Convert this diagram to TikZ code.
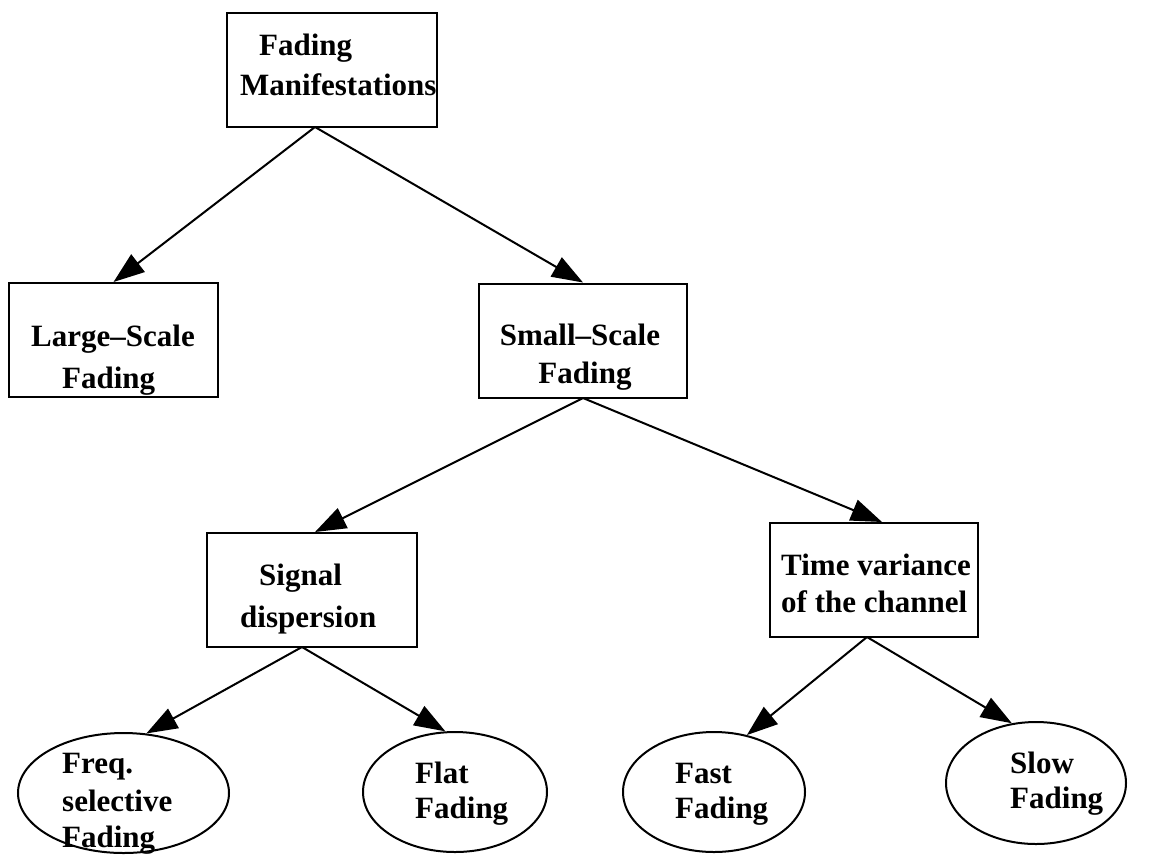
\documentclass[tikz,border=0pt]{standalone}
\usepackage{fontspec}
\setmainfont{Liberation Serif}
\usetikzlibrary{arrows.meta,shapes.geometric}

\tikzset{
  box/.style={draw, line width=2pt, rectangle, inner sep=0pt, minimum width=#1, minimum height=114pt},
  oval/.style={draw, line width=2pt, ellipse, inner sep=0pt},
  lbl/.style={inner sep=0pt, anchor=base west, font=\fontsize{31}{39}\selectfont\bfseries},
  clbl/.style={lbl, anchor=base},
  link/.style={line width=2pt, -{Triangle[length=31pt,width=22pt]}}
}

\begin{document}
\begin{tikzpicture}[x=1pt,y=-1pt]
  \useasboundingbox (0,0) rectangle (1153,855);

  % boxes
  \node[box=210pt] (root)   at (332,70)  {};
  \node[box=209pt] (large)  at (113.5,340) {};
  \node[box=208pt] (small)  at (583,340.5) {};
  \node[box=210pt] (signal) at (312,590) {};
  \node[box=208pt] (timev)  at (874,580) {};

  % ovals
  \node[oval, minimum width=211pt, minimum height=120pt] (freq) at (123.5,793) {};
  \node[oval, minimum width=184pt, minimum height=120pt] (flat) at (455,792) {};
  \node[oval, minimum width=182pt, minimum height=120pt] (fast) at (714,792) {};
  \node[oval, minimum width=180pt, minimum height=122pt] (slow) at (1036,783) {};

  % texts
  \node[lbl] (t1a) at (259,55) {Fading};
  \node[lbl] (t1b) at (240,95) {Manifestations};
  \node[lbl] (t2a) at (31,346) {Large–Scale};
  \node[lbl] (t2b) at (62,388) {Fading};
  \node[clbl] (t3a) at (580,345) {Small–Scale};
  \node[clbl] (t3b) at (585,383) {Fading};
  \node[lbl] (t4a) at (259,585) {Signal};
  \node[lbl] (t4b) at (240,627) {dispersion};
  \node[lbl] (t5a) at (781,575) {Time variance};
  \node[lbl] (t5b) at (781,612) {of the channel};
  \node[lbl] (t6a) at (62,773) {Freq.};
  \node[lbl] (t6b) at (62,811) {selective};
  \node[lbl] (t6c) at (62,847) {Fading};
  \node[lbl] (t7a) at (415,783) {Flat};
  \node[lbl] (t7b) at (415,818) {Fading};
  \node[lbl] (t8a) at (675,783) {Fast};
  \node[lbl] (t8b) at (675,818) {Fading};
  \node[lbl] (t9a) at (1010,773) {Slow};
  \node[lbl] (t9b) at (1010,808) {Fading};

  % connector origins on the lower edges
  \coordinate (rootout)   at (315,127);
  \coordinate (smallout)  at (583,398);
  \coordinate (signalout) at (302,647);
  \coordinate (timeout)   at (867,637);

  % connectors
  \draw[link] (rootout) -- (large.north);
  \draw[link] (rootout) -- (small.north);
  \draw[link] (smallout) -- ([xshift=3pt]signal.north);
  \draw[link] (smallout) -- ([xshift=8pt]timev.north);
  \draw[link] (signalout) -- (freq.69);
  \draw[link] (signalout) -- (flat.99);
  \draw[link] (timeout) -- (fast.60);
  \draw[link] (timeout) -- (slow.112);
\end{tikzpicture}
\end{document}
